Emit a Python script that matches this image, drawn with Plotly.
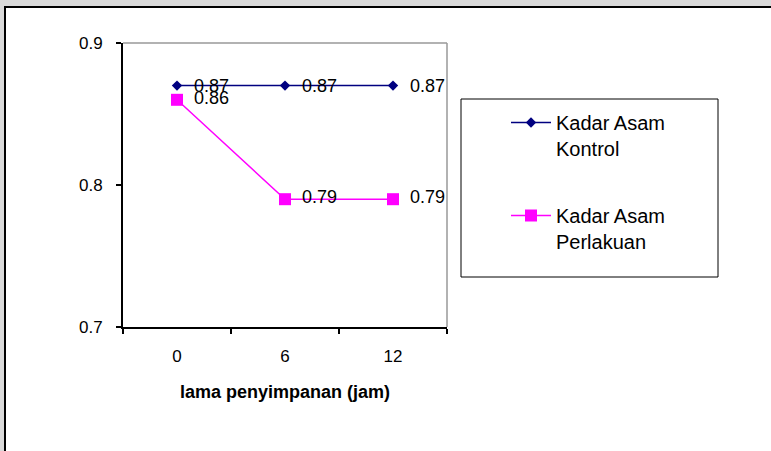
import plotly.graph_objects as go

# storage time (hours) and measured acid content
waktu = ["0", "6", "12"]
kontrol = [0.87, 0.87, 0.87]
perlakuan = [0.86, 0.79, 0.79]

W, H = 771, 451
ML, MR, MT, MB = 123, 324, 43, 124
PW, PH = W - ML - MR, H - MT - MB


def px_x(p):
    return (p - ML) / PW


def px_y(p):
    return 1 - (p - MT) / PH


fig = go.Figure()

fig.add_trace(go.Scatter(
    x=waktu, y=kontrol, mode="lines+markers",
    name="Kadar Asam<br>Kontrol", legendgroup="a",
    line=dict(color="#000080", width=1.5),
    marker=dict(symbol="diamond", size=8, color="#000080"),
))
fig.add_trace(go.Scatter(
    x=waktu, y=perlakuan, mode="lines+markers",
    name="Kadar Asam<br>Perlakuan", legendgroup="b",
    line=dict(color="#FF00FF", width=1.5),
    marker=dict(symbol="square", size=12, color="#FF00FF"),
))

# value labels to the right of each point (category index on x)
for ys, dy in [(kontrol, 0), (perlakuan, 2)]:
    for i, yv in enumerate(ys):
        fig.add_annotation(
            x=i, y=yv, text=f"{yv:.2f}", showarrow=False,
            xanchor="left", yanchor="middle", xshift=15, yshift=dy,
            font=dict(family="Liberation Sans, Arial", size=18, color="black"),
        )

shapes = [
    # outer chart frame
    dict(type="rect", xref="paper", yref="paper",
         x0=px_x(5), x1=px_x(W + 50), y0=px_y(7), y1=px_y(H + 50),
         line=dict(color="black", width=2), fillcolor="white", layer="below"),
    # plot area top/right border
    dict(type="line", xref="paper", yref="paper", x0=0, x1=1, y0=1, y1=1,
         line=dict(color="#999999", width=1.5)),
    dict(type="line", xref="paper", yref="paper", x0=1, x1=1, y0=0, y1=1,
         line=dict(color="#999999", width=1.5)),
    # legend frame
    dict(type="rect", xref="paper", yref="paper",
         x0=px_x(461), x1=px_x(718), y0=px_y(99), y1=px_y(277),
         line=dict(color="black", width=1), fillcolor="white", layer="below"),
]

fig.update_layout(
    width=W, height=H,
    margin=dict(l=ML, r=MR, t=MT, b=MB, pad=0),
    paper_bgcolor="#d9d9d9", plot_bgcolor="white",
    font=dict(family="Liberation Sans, Arial", color="black"),
    shapes=shapes,
    showlegend=True,
    legend=dict(
        x=px_x(506), y=px_y(103), xanchor="left", yanchor="top",
        bgcolor="rgba(0,0,0,0)", borderwidth=0,
        font=dict(size=20, color="black"),
        valign="top", tracegroupgap=38, traceorder="grouped",
        itemwidth=40,
    ),
    xaxis=dict(
        type="category", range=[-0.5, 2.5], tickson="boundaries",
        ticks="outside", ticklen=5, tickcolor="black", tickwidth=1.5,
        showline=True, linecolor="black", linewidth=2,
        showgrid=False, zeroline=False,
        tickfont=dict(size=17), ticklabelstandoff=13,
        title=dict(text="<b>lama penyimpanan (jam)</b>", font=dict(size=18), standoff=20),
        fixedrange=True,
    ),
    yaxis=dict(
        range=[0.7, 0.9], tickvals=[0.7, 0.8, 0.9], ticktext=["0.7", "0.8", "0.9"],
        ticks="outside", ticklen=5, tickcolor="black", tickwidth=1.5,
        showline=True, linecolor="black", linewidth=2,
        showgrid=False, zeroline=False,
        tickfont=dict(size=17), ticklabelstandoff=10,
        fixedrange=True,
    ),
)

fig.write_html("out.html")
